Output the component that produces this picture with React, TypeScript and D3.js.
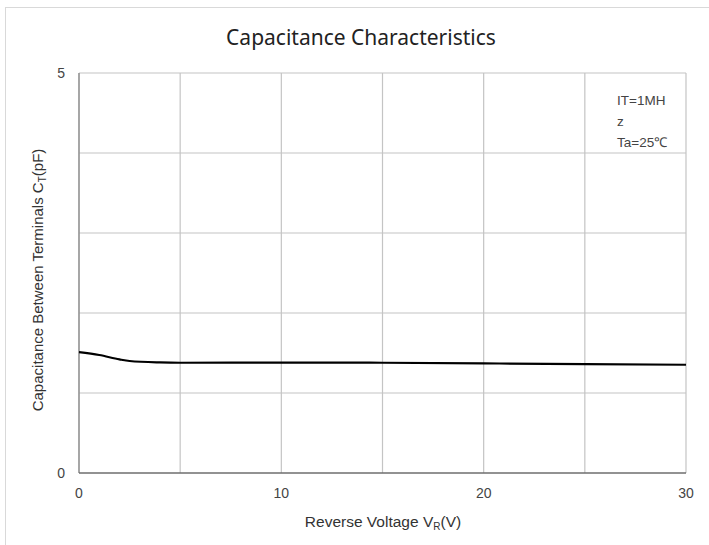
import * as d3 from "d3";
import { useEffect, useRef } from "react";

const width = 709;
const height = 545;
const margin = { top: 73, right: 23, bottom: 72, left: 79 };

const voltage = [0, 1, 2, 2.5, 4, 5, 10, 15, 20, 25, 30];
const capacitance = [1.51, 1.475, 1.42, 1.4, 1.382, 1.378, 1.38, 1.378, 1.37, 1.362, 1.353];
const xTicks = [0, 10, 20, 30];
const xGrid = [0, 5, 10, 15, 20, 25, 30];
const yTicks = [0, 5];
const yGrid = [1, 2, 3, 4, 5];
const noteLines = ["IT=1MH", "z", "Ta=25\u2103"];

const font = "'Liberation Sans', Arial, sans-serif";

const CapacitanceChart = () => {
  const ref = useRef<SVGSVGElement | null>(null);

  useEffect(() => {
    if (!ref.current) return;
    const svg = d3.select(ref.current);
    svg.selectAll("*").remove();

    const x = d3
      .scaleLinear()
      .domain([0, 30])
      .range([margin.left, width - margin.right]);
    const y = d3
      .scaleLinear()
      .domain([0, 5])
      .range([height - margin.bottom, margin.top]);

    // outer frame
    svg
      .append("rect")
      .attr("x", 5.5)
      .attr("y", 7.5)
      .attr("width", 720)
      .attr("height", 560)
      .attr("fill", "#fff")
      .attr("stroke", "#d9d9d9");

    // grid
    svg
      .append("g")
      .selectAll("line")
      .data(xGrid)
      .join("line")
      .attr("x1", (d) => x(d))
      .attr("x2", (d) => x(d))
      .attr("y1", y(0))
      .attr("y2", y(5))
      .attr("stroke", "#c4c4c4")
      .attr("stroke-width", 1.2);

    svg
      .append("g")
      .selectAll("line")
      .data(yGrid)
      .join("line")
      .attr("x1", x(0))
      .attr("x2", x(30))
      .attr("y1", (d) => y(d))
      .attr("y2", (d) => y(d))
      .attr("stroke", "#c4c4c4")
      .attr("stroke-width", 1.2);

    // axis lines
    svg
      .append("line")
      .attr("x1", x(0))
      .attr("x2", x(0))
      .attr("y1", y(0))
      .attr("y2", y(5))
      .attr("stroke", "#8a8a8a")
      .attr("stroke-width", 1.3);
    svg
      .append("line")
      .attr("x1", x(0))
      .attr("x2", x(30))
      .attr("y1", y(0))
      .attr("y2", y(0))
      .attr("stroke", "#6e6e6e")
      .attr("stroke-width", 1.3);

    // tick labels
    svg
      .append("g")
      .selectAll("text")
      .data(xTicks)
      .join("text")
      .attr("x", (d) => x(d))
      .attr("y", y(0) + 25)
      .attr("text-anchor", "middle")
      .attr("font-family", font)
      .attr("font-size", 14)
      .attr("fill", "#444")
      .text((d) => d);

    svg
      .append("g")
      .selectAll("text")
      .data(yTicks)
      .join("text")
      .attr("x", x(0) - 14)
      .attr("y", (d) => y(d) + 5)
      .attr("text-anchor", "end")
      .attr("font-family", font)
      .attr("font-size", 14)
      .attr("fill", "#444")
      .text((d) => d);

    // curve
    const line = d3
      .line<number>()
      .x((_, i) => x(voltage[i]))
      .y((d) => y(d))
      .curve(d3.curveMonotoneX);
    svg
      .append("path")
      .datum(capacitance)
      .attr("d", line)
      .attr("fill", "none")
      .attr("stroke", "#000")
      .attr("stroke-width", 2.2);

    // title
    svg
      .append("text")
      .attr("x", 361)
      .attr("y", 45)
      .attr("text-anchor", "middle")
      .attr("font-family", "'Noto Sans', sans-serif")
      .attr("font-size", 21)
      .attr("fill", "#222")
      .text("Capacitance Characteristics");

    // x axis title
    const xt = svg
      .append("text")
      .attr("x", 383)
      .attr("y", 527)
      .attr("text-anchor", "middle")
      .attr("font-family", font)
      .attr("font-size", 15.5)
      .attr("fill", "#333");
    xt.append("tspan").text("Reverse Voltage V");
    xt.append("tspan").attr("font-size", 10).attr("dy", 3).text("R");
    xt.append("tspan").attr("dy", -3).text("(V)");

    // y axis title
    const yt = svg
      .append("text")
      .attr("transform", `translate(43, ${(y(0) + y(5)) / 2 + 7}) rotate(-90)`)
      .attr("text-anchor", "middle")
      .attr("font-family", font)
      .attr("font-size", 15)
      .attr("fill", "#333");
    yt.append("tspan").text("Capacitance Between Terminals C");
    yt.append("tspan").attr("font-size", 10).attr("dy", 3).text("T");
    yt.append("tspan").attr("dy", -3).text("(pF)");

    // note
    svg
      .append("g")
      .selectAll("text")
      .data(noteLines)
      .join("text")
      .attr("x", 617)
      .attr("y", (_, i) => 105 + i * 21)
      .attr("font-family", font)
      .attr("font-size", 13.5)
      .attr("fill", "#444")
      .text((d) => d);
  }, []);

  return (
    <svg
      ref={ref}
      width={width}
      height={height}
      style={{ position: "absolute", left: 0, top: 0, background: "#fff" }}
    />
  );
};

export default function App() {
  return <CapacitanceChart />;
}
